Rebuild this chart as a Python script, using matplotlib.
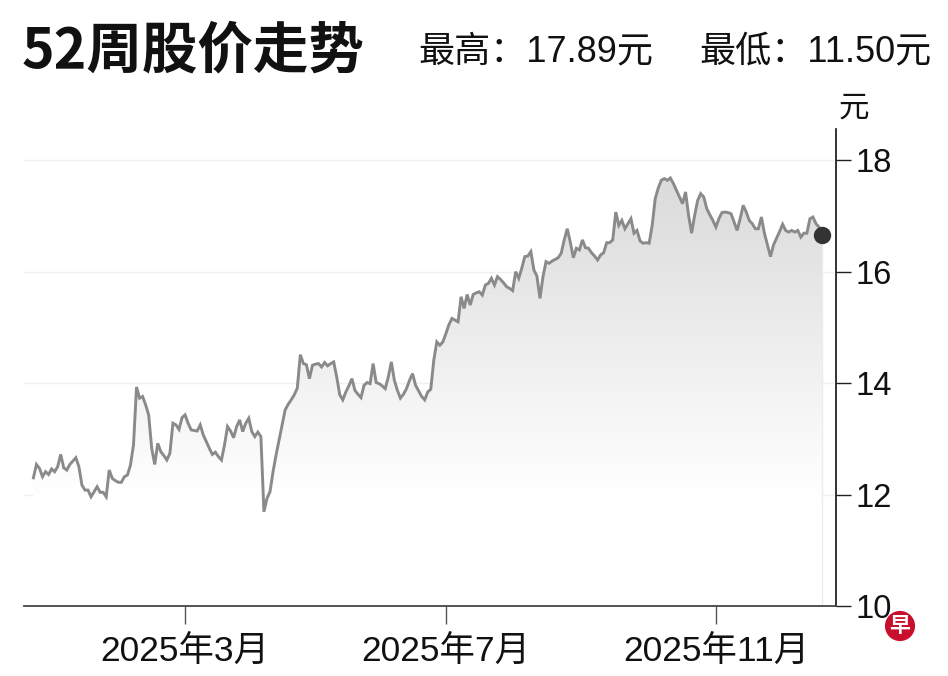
import numpy as np
import pandas as pd
import matplotlib
matplotlib.use("Agg")
import matplotlib.pyplot as plt
from matplotlib.patches import PathPatch
from matplotlib import font_manager

# ---------------- data ----------------
start_date = "2024-12-23"
price = [
    12.30, 12.54, 12.47, 12.32, 12.41, 12.36, 12.46, 12.41, 12.50, 12.72,
    12.48, 12.44, 12.54, 12.60, 12.66, 12.50, 12.17, 12.08, 12.08, 11.96,
    12.05, 12.14, 12.04, 12.04, 11.96, 12.44, 12.29, 12.25, 12.22, 12.22,
    12.32, 12.35, 12.53, 12.89, 13.93, 13.73, 13.76, 13.61, 13.43, 12.83,
    12.54, 12.92, 12.77, 12.70, 12.62, 12.74, 13.28, 13.25, 13.17, 13.38,
    13.43, 13.28, 13.16, 13.15, 13.14, 13.25, 13.07, 12.95, 12.83, 12.72,
    12.76, 12.68, 12.62, 12.89, 13.22, 13.14, 13.02, 13.22, 13.34, 13.13,
    13.28, 13.37, 13.13, 13.04, 13.12, 13.04, 11.69, 11.93, 12.05, 12.41,
    12.71, 12.98, 13.25, 13.52, 13.62, 13.70, 13.79, 13.91, 14.51, 14.35,
    14.33, 14.08, 14.32, 14.34, 14.35, 14.29, 14.37, 14.31, 14.35, 14.38,
    14.11, 13.79, 13.70, 13.84, 13.95, 14.08, 13.87, 13.80, 13.74, 13.96,
    14.01, 13.99, 14.35, 14.01, 13.99, 13.95, 13.90, 14.11, 14.38, 14.05,
    13.87, 13.73, 13.80, 13.90, 14.05, 14.17, 13.96, 13.86, 13.76, 13.70,
    13.84, 13.89, 14.41, 14.74, 14.68, 14.74, 14.89, 15.05, 15.16, 15.13,
    15.10, 15.55, 15.34, 15.59, 15.40, 15.59, 15.62, 15.64, 15.58, 15.76,
    15.79, 15.88, 15.76, 15.91, 15.86, 15.80, 15.73, 15.70, 15.66, 16.00,
    15.88, 16.06, 16.27, 16.28, 16.36, 16.03, 15.92, 15.52, 15.91, 16.18,
    16.15, 16.19, 16.22, 16.25, 16.33, 16.57, 16.77, 16.53, 16.25, 16.42,
    16.39, 16.57, 16.43, 16.42, 16.34, 16.28, 16.21, 16.30, 16.34, 16.52,
    16.52, 16.57, 17.07, 16.83, 16.92, 16.77, 16.86, 16.95, 16.69, 16.74,
    16.55, 16.51, 16.52, 16.51, 16.83, 17.31, 17.50, 17.64, 17.67, 17.64,
    17.68, 17.58, 17.46, 17.34, 17.22, 17.43, 17.01, 16.69, 17.01, 17.28,
    17.40, 17.34, 17.13, 17.02, 16.92, 16.80, 16.95, 17.06, 17.07, 17.06,
    17.04, 16.89, 16.74, 16.95, 17.19, 17.07, 16.92, 16.86, 16.77, 16.77,
    16.98, 16.69, 16.48, 16.27, 16.48, 16.60, 16.72, 16.85, 16.74, 16.71,
    16.74, 16.71, 16.74, 16.62, 16.69, 16.69, 16.95, 16.98, 16.86, 16.80,
    16.66,
]
tick_months = ["2025-03-01", "2025-07-01", "2025-11-01"]
tick_labels = ["2025年3月", "2025年7月", "2025年11月"]
y_ticks = [10, 12, 14, 16, 18]
title = "52周股价走势"
high_text = "最高：17.89元"
low_text = "最低：11.50元"
unit = "元"

# ---------------- fonts ----------------
available = {f.name for f in font_manager.fontManager.ttflist}
narrow = "Liberation Sans Narrow" if "Liberation Sans Narrow" in available else "Liberation Sans"
FAM = [narrow, "Noto Sans CJK SC", "DejaVu Sans"]
plt.rcParams["font.family"] = FAM

# ---------------- figure ----------------
W, H = 948, 676
fig = plt.figure(figsize=(W / 100, H / 100), dpi=100)
fig.patch.set_facecolor("white")

ax_l, ax_r, ax_b, ax_t = 24, 836, 606, 129
ax = fig.add_axes([ax_l / W, 1 - ax_b / H, (ax_r - ax_l) / W, (ax_b - ax_t) / H])

dates = pd.bdate_range(start_date, periods=len(price))
x = np.arange(len(price))
y = np.array(price)

ymin, ymax = 10, 18.56
ax.set_ylim(ymin, ymax)
ax.set_xlim(-3.1, 264.6)

# grid
for t in y_ticks[1:]:
    ax.axhline(t, color="#f0f0f0", lw=1.0, zorder=0)

# gradient fill under the line
grad = np.linspace(0, 1, 256).reshape(-1, 1)  # 0 top -> 1 bottom
vals = ymax - grad * (ymax - ymin)
g = np.clip(0.85 + (18.0 - vals) / 6.0 * (1.0 - 0.85), 0.85, 1.0)
img = np.dstack([g, g, g, np.ones_like(g)])
im = ax.imshow(img, extent=[x[0], x[-1], ymin, ymax], aspect="auto",
               origin="upper", zorder=1, interpolation="bilinear")
poly = ax.fill_between(x, y, ymin, color="none", lw=0)
clip_path = poly.get_paths()[0]
pp = PathPatch(clip_path, transform=ax.transData, facecolor="none", edgecolor="none")
ax.add_patch(pp)
im.set_clip_path(pp)
ax.plot([x[-1], x[-1]], [ymin, y[-1]], color="#ececec", lw=1.0, zorder=1.5)

ax.plot(x, y, color="#8a8a8a", lw=2.1, zorder=3, solid_joinstyle="miter")
ax.plot([x[-1]], [y[-1]], "o", color="#333333", ms=11.5, zorder=4)

# axes styling
for s in ["top", "left"]:
    ax.spines[s].set_visible(False)
ax.spines["right"].set_color("#111111")
ax.spines["right"].set_linewidth(1.2)
ax.spines["bottom"].set_color("#444444")
ax.spines["bottom"].set_linewidth(1.3)
ax.set_facecolor("white")

ax.yaxis.tick_right()
ax.set_yticks(y_ticks)
ax.set_yticklabels([str(t) for t in y_ticks])
ax.tick_params(axis="y", direction="out", length=11, width=1.0, color="#222222",
               pad=3, labelsize=23.5, labelcolor="#111111")

xt = [int(dates.searchsorted(pd.Timestamp(m))) for m in tick_months]
ax.set_xticks(xt)
ax.set_xticklabels(tick_labels)
ax.tick_params(axis="x", direction="out", length=13, width=1.0, color="#555555",
               pad=8, labelsize=25.5, labelcolor="#111111")

# texts
fig.text(22 / W, 1 - 51 / H, title, fontsize=40, fontweight="heavy",
         family=["Noto Sans CJK SC", "DejaVu Sans"], color="#111111",
         ha="left", va="center")
fig.text(418 / W, 1 - 52 / H, high_text, fontsize=26, color="#111111",
         ha="left", va="center")
fig.text(932 / W, 1 - 52 / H, low_text, fontsize=26, color="#111111",
         ha="right", va="center")
fig.text(854 / W, 1 - 108 / H, unit, fontsize=22, color="#111111",
         ha="center", va="center", family=["Noto Sans CJK SC", "DejaVu Sans"])

# logo
fig.text(900 / W, 1 - 626 / H, "早", fontsize=15, fontweight="bold",
         color="white", ha="center", va="center",
         family=["Noto Sans CJK SC", "DejaVu Sans"],
         bbox=dict(boxstyle="circle,pad=0.22", fc="#c8102e", ec="none"))

fig.savefig("out.png", dpi=100, facecolor="white")
